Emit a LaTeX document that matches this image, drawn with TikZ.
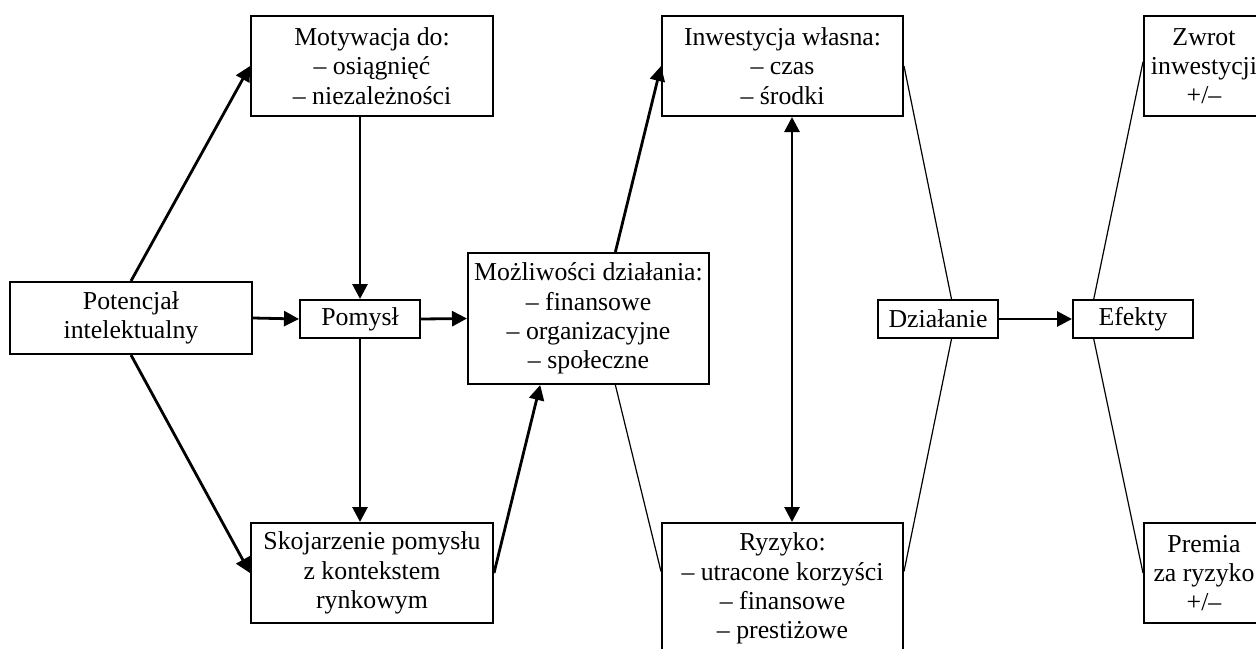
\documentclass[tikz,border=0pt]{standalone}
\usepackage{fontspec}
\setmainfont{Liberation Serif}
\usetikzlibrary{arrows.meta}

\begin{document}
\begin{tikzpicture}[x=0.5pt,y=-0.5pt,
  box/.style={draw,line width=1pt,align=center,inner sep=0pt,
    font=\fontsize{12.9}{14.6}\selectfont},
  arr/.style={line width=1.4pt,-{Triangle[length=7.5pt,width=7.5pt]}},
  twoarr/.style={line width=1.4pt,{Triangle[length=7.5pt,width=7.5pt]}-{Triangle[length=7.5pt,width=7.5pt]}},
  thinline/.style={line width=0.6pt}]

\useasboundingbox (0,0) rectangle (1256,648);
\clip (0,0) rectangle (1256,648);

% Define the boxes.
\node[box,minimum width=121pt,minimum height=36pt] (pot) at (131,318) {Potencjał\\intelektualny};
\node[box,minimum width=60pt,minimum height=19pt] (pom) at (360,319) {Pomysł};
\node[box,minimum width=121pt,minimum height=50pt] (mot) at (372,66) {Motywacja do:\\-- osiągnięć\\-- niezależności};
\node[box,minimum width=121pt,minimum height=50pt] (sko) at (372,573) {Skojarzenie pomysłu\\z kontekstem\\rynkowym};
\node[box,minimum width=120.5pt,minimum height=65.5pt] (moz) at (588.5,318.5) {Możliwości działania:\\-- finansowe\\-- organizacyjne\\-- społeczne};
\node[box,minimum width=120.5pt,minimum height=50pt] (inw) at (782.5,66) {Inwestycja własna:\\-- czas\\-- środki};
\node[box,minimum width=120.5pt,minimum height=65.5pt] (ryz) at (782.5,588.5) {Ryzyko:\\-- utracone korzyści\\-- finansowe\\-- prestiżowe};
\node[box,minimum width=60pt,minimum height=19pt] (dzi) at (938,319) {Działanie};
\node[box,minimum width=60pt,minimum height=19pt] (efe) at (1133,319) {Efekty};
\node[box,minimum width=60pt,minimum height=50pt] (zwr) at (1204,66) {Zwrot\\inwestycji\\+/--};
\node[box,minimum width=60pt,minimum height=50pt] (pre) at (1204,573) {Premia\\za ryzyko\\+/--};

% Draw the arrows.
\draw[arr] (pot.north) -- (mot.west);
\draw[arr] (pot.south) -- (sko.west);
\draw[arr] (pot.east) -- (pom.west);
\draw[arr] (pom.north |- mot.south) -- (pom.north);
\draw[arr] (pom.south) -- (pom.south |- sko.north);
\draw[arr] (pom.east) -- (moz.west);
\draw[arr] (sko.east) -- (moz.234);
\draw[arr] (moz.68) -- (inw.west);
\draw[twoarr] ([xshift=4.75pt]inw.south) -- ([xshift=4.75pt]ryz.north);
\draw[arr] (dzi.east) -- (efe.west);

% Draw the thin lines.
\draw[thinline] (moz.292) -- (ryz.172);
\draw[thinline] (inw.east) -- (dzi.56);
\draw[thinline] (dzi.304) -- (ryz.8);
\draw[thinline] (efe.153) -- (zwr.176);
\draw[thinline] (efe.207) -- (pre.west);

\end{tikzpicture}
\end{document}
